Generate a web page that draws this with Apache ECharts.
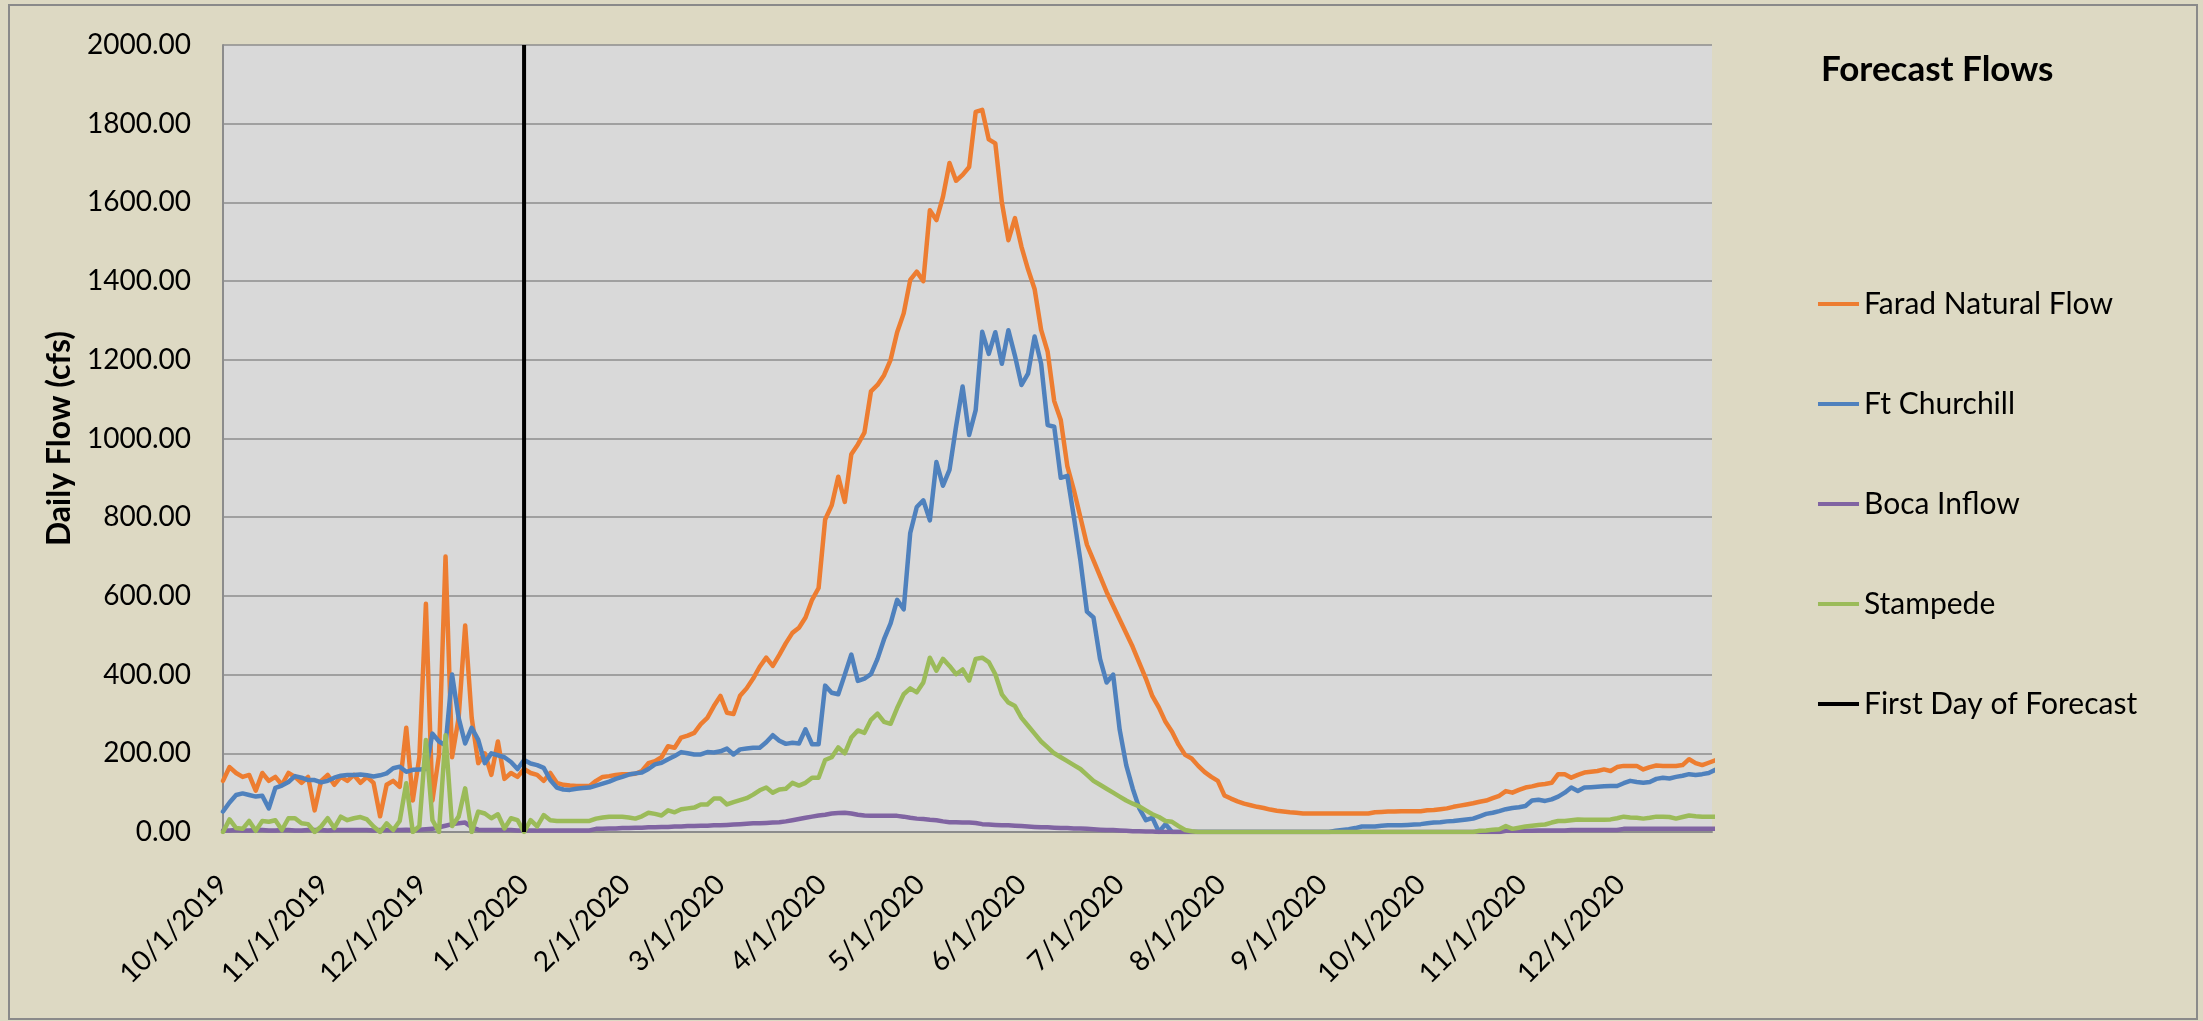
<!DOCTYPE html>
<html>
<head>
<meta charset="utf-8">
<title>Forecast Flows</title>
<script src="https://cdn.jsdelivr.net/npm/echarts@6/dist/echarts.min.js"></script>
<style>
    html, body { margin: 0; padding: 0; background: #DDD9C3; }
    #flows { width: 2203px; height: 1021px; }
</style>
</head>
<body>
<div id="flows"></div>
<script>
// flows read every second day, first value is 10/1/2019
var firstDay = [2019, 9, 1];
var stepDays = 2;
var lastDay = [2020, 11, 29];
var forecastDay = '1/1/2020';
var tickLabels = ['10/1/2019', '11/1/2019', '12/1/2019', '1/1/2020', '2/1/2020', '3/1/2020', '4/1/2020',
    '5/1/2020', '6/1/2020', '7/1/2020', '8/1/2020', '9/1/2020', '10/1/2020', '11/1/2020', '12/1/2020'];
var seriesNames = ['Farad Natural Flow', 'Ft Churchill', 'Boca Inflow', 'Stampede', 'First Day of Forecast'];
var seriesColors = ['#ED7D31', '#4F81BD', '#8064A2', '#9BBB59', '#000000'];

var farad = [
    130, 165, 150, 140, 145, 105, 150, 130, 140, 120,
    150, 140, 125, 140, 55, 130, 145, 120, 140, 130,
    145, 125, 140, 125, 40, 120, 130, 115, 265, 80,
    190, 580, 80, 195, 700, 190, 290, 525, 290, 175,
    200, 145, 230, 135, 150, 140, 160, 150, 145, 130,
    150, 125, 120, 118, 117, 117, 117, 130, 140, 142,
    145, 147, 147, 148, 155, 175, 180, 190, 218, 214,
    240, 245, 252, 274, 290, 320, 346, 303, 300, 346,
    365, 390, 420, 443, 422, 450, 480, 506, 519, 545,
    590, 620, 794, 830, 903, 839, 960, 985, 1015, 1120,
    1136, 1161, 1200, 1270, 1318, 1403, 1424, 1400, 1580, 1555,
    1614, 1700, 1655, 1670, 1690, 1830, 1835, 1760, 1750, 1600,
    1504, 1560, 1487, 1430, 1380, 1276, 1220, 1095, 1047, 930,
    869, 800, 730, 690, 650, 610, 575, 540, 505, 470,
    430, 390, 345, 316, 280, 255, 222, 196, 187, 168,
    152, 140, 130, 93, 85, 78, 72, 68, 64, 61,
    57, 54, 52, 50, 49, 47, 47, 47, 47, 47,
    47, 47, 47, 47, 47, 47, 50, 51, 52, 52,
    53, 53, 53, 53, 55, 56, 58, 60, 64, 67,
    70, 73, 77, 80, 86, 92, 104, 100, 107, 113,
    116, 120, 122, 125, 147, 147, 138, 145, 151, 153,
    155, 159, 155, 165, 168, 168, 168, 159, 165, 169,
    168, 168, 168, 170, 185, 175, 170, 176, 182
];
var churchill = [
    52, 75, 94, 98, 94, 90, 92, 60, 112, 118,
    127, 142, 138, 132, 132, 126, 130, 138, 143, 145,
    145, 146, 144, 141, 144, 149, 162, 166, 153, 158,
    159, 160, 250, 230, 220, 400, 290, 225, 265, 234,
    175, 200, 195, 190, 178, 160, 183, 174, 170, 163,
    132, 113, 108, 107, 110, 112, 113, 118, 123, 128,
    135, 140, 146, 149, 151, 160, 172, 176, 185, 193,
    203, 200, 197, 197, 203, 202, 205, 212, 197, 210,
    212, 214, 214, 228, 246, 232, 224, 227, 225, 261,
    223, 223, 372, 354, 350, 400, 451, 384, 390, 401,
    440, 490, 530, 590, 566, 760, 826, 843, 792, 940,
    880, 920, 1030, 1132, 1009, 1072, 1271, 1215, 1270, 1190,
    1275, 1210, 1136, 1165, 1259, 1190, 1034, 1030, 900, 905,
    801, 690, 560, 545, 440, 380, 400, 260, 170, 110,
    60, 30, 36, 0, 20, 0, 0, 0, 0, 0,
    0, 0, 0, 0, 0, 0, 0, 0, 0, 0,
    0, 0, 0, 0, 0, 0, 0, 0, 0, 0,
    3, 5, 7, 10, 14, 14, 14, 16, 17, 17,
    17, 18, 19, 20, 22, 24, 25, 27, 28, 30,
    32, 34, 40, 46, 49, 53, 58, 61, 63, 66,
    80, 82, 79, 83, 90, 100, 113, 104, 113, 114,
    115, 116, 117, 117, 124, 130, 127, 125, 127, 135,
    138, 136, 140, 143, 147, 145, 147, 150, 158
];
var boca = [
    4, 4, 5, 4, 4, 5, 5, 4, 4, 5,
    5, 4, 4, 5, 5, 5, 4, 5, 5, 5,
    5, 5, 5, 4, 5, 5, 6, 5, 6, 5,
    6, 7, 8, 12, 16, 20, 22, 24, 12, 6,
    5, 5, 5, 5, 5, 4, 4, 4, 4, 4,
    4, 4, 4, 4, 4, 4, 4, 8, 8, 9,
    9, 10, 10, 11, 11, 12, 12, 13, 13, 14,
    14, 15, 15, 16, 16, 17, 17, 18, 19, 20,
    21, 22, 22, 23, 24, 25, 27, 30, 33, 36,
    39, 42, 44, 47, 48, 49, 47, 44, 42, 41,
    41, 41, 41, 41, 39, 36, 34, 33, 31, 30,
    27, 25, 25, 24, 24, 23, 20, 19, 18, 17,
    17, 16, 15, 14, 13, 12, 12, 11, 10, 10,
    9, 9, 8, 7, 6, 5, 5, 4, 3, 2,
    2, 1, 1, 0, 0, 0, 0, 0, 0, 0,
    0, 0, 0, 0, 0, 0, 0, 0, 0, 0,
    0, 0, 0, 0, 0, 0, 0, 0, 0, 0,
    0, 0, 0, 0, 0, 0, 0, 0, 0, 0,
    0, 0, 0, 0, 0, 0, 0, 0, 0, 0,
    0, 0, 0, 0, 0, 0, 3, 3, 3, 3,
    3, 4, 4, 4, 4, 4, 5, 5, 5, 5,
    5, 5, 5, 5, 8, 8, 8, 8, 8, 8,
    8, 8, 8, 8, 8, 8, 8, 8, 8
];
var stampede = [
    0, 32, 10, 8, 28, 3, 28, 26, 30, 5,
    35, 35, 22, 20, 0, 14, 35, 10, 39, 30,
    35, 38, 32, 14, 0, 22, 5, 28, 124, 0,
    15, 234, 30, 0, 246, 15, 39, 111, 0, 52,
    47, 35, 45, 9, 35, 30, 0, 30, 14, 43,
    30, 28, 28, 28, 28, 28, 28, 34, 37, 39,
    39, 39, 37, 34, 40, 49, 46, 42, 55, 50,
    58, 60, 62, 70, 70, 85, 85, 70, 76, 81,
    86, 95, 106, 113, 100, 108, 110, 125, 118, 125,
    138, 138, 183, 190, 215, 200, 240, 258, 252, 285,
    301, 280, 275, 315, 350, 365, 355, 380, 443, 410,
    440, 422, 401, 413, 385, 440, 443, 432, 401, 350,
    329, 320, 290, 270, 250, 230, 215, 200, 190, 180,
    170, 160, 145, 130, 120, 110, 100, 90, 80, 72,
    65, 55, 45, 38, 28, 26, 15, 5, 2, 0,
    0, 0, 0, 0, 0, 0, 0, 0, 0, 0,
    0, 0, 0, 0, 0, 0, 0, 0, 0, 0,
    0, 0, 0, 0, 0, 0, 0, 0, 0, 0,
    0, 0, 0, 0, 0, 0, 0, 0, 0, 0,
    0, 0, 3, 4, 6, 7, 15, 8, 11, 14,
    16, 18, 19, 24, 28, 28, 30, 32, 31, 31,
    31, 31, 32, 35, 39, 37, 36, 34, 36, 39,
    39, 38, 34, 38, 42, 40, 39, 39, 39
];
var forecastLine = [0, 2000];

function parseLabel(s) {
    var p = s.split('/');
    return new Date(+p[2], +p[0] - 1, +p[1]).getTime();
}

function withDates(values) {
    return values.map(function (v, i) {
        return [new Date(firstDay[0], firstDay[1], firstDay[2] + i * stepDays).getTime(), v];
    });
}

var font = 'Lato';
var flowSeries = [farad, churchill, boca, stampede].map(function (vals, i) {
    return {
        name: seriesNames[i],
        type: 'line',
        data: withDates(vals),
        showSymbol: false,
        symbol: 'none',
        color: seriesColors[i],
        lineStyle: { width: 4.5, color: seriesColors[i], join: 'round', cap: 'round' }
    };
});
flowSeries.push({
    name: seriesNames[4],
    type: 'line',
    data: forecastLine.map(function (v) { return [parseLabel(forecastDay), v]; }),
    showSymbol: false,
    symbol: 'none',
    color: seriesColors[4],
    lineStyle: { width: 4, color: seriesColors[4] }
});

var chart = echarts.init(document.getElementById('flows'));
var option = {
    backgroundColor: '#DDD9C3',
    animation: false,
    title: {
        text: 'Forecast Flows',
        left: 1816,
        top: 47,
        textStyle: { fontFamily: font, fontSize: 35, fontWeight: 'bold', color: '#000' }
    },
    legend: {
        orient: 'vertical',
        left: 1813,
        top: 284,
        itemGap: 70,
        itemWidth: 41,
        itemHeight: 4,
        icon: 'rect',
        data: seriesNames,
        textStyle: { fontFamily: font, fontSize: 30, color: '#000', lineHeight: 30 }
    },
    grid: {
        left: 223,
        right: 491,
        top: 45,
        bottom: 189,
        show: true,
        backgroundColor: '#D9D9D9',
        borderWidth: 0
    },
    xAxis: {
        // dates as plain millisecond values so the month-start labels can be placed exactly
        type: 'value',
        min: new Date(firstDay[0], firstDay[1], firstDay[2]).getTime(),
        max: new Date(lastDay[0], lastDay[1], lastDay[2]).getTime(),
        splitLine: { show: false },
        axisTick: { show: false },
        axisLine: { lineStyle: { color: '#8C8C8C', width: 2 } },
        axisLabel: {
            rotate: 45,
            margin: 48,
            hideOverlap: false,
            customValues: tickLabels.map(parseLabel),
            fontFamily: font,
            fontSize: 28,
            color: '#000',
            formatter: function (val) {
                var d = new Date(val);
                return (d.getMonth() + 1) + '/' + d.getDate() + '/' + d.getFullYear();
            }
        }
    },
    yAxis: {
        type: 'value',
        min: 0,
        max: 2000,
        interval: 200,
        name: 'Daily Flow (cfs)',
        nameLocation: 'middle',
        nameGap: 146,
        nameTextStyle: { fontFamily: font, fontSize: 32, fontWeight: 'bold', color: '#000' },
        axisLine: { show: true, lineStyle: { color: '#8C8C8C', width: 2 } },
        axisTick: { show: false },
        splitLine: { lineStyle: { color: '#8C8C8C', width: 1.5 } },
        axisLabel: {
            margin: 32,
            fontFamily: font,
            fontSize: 28,
            color: '#000',
            formatter: function (v) { return v.toFixed(2); }
        }
    },
    graphic: [{
        type: 'rect',
        shape: { x: 9, y: 5, width: 2188, height: 1014 },
        style: { fill: 'none', stroke: '#8A8A8A', lineWidth: 2 },
        silent: true
    }],
    series: flowSeries
};
chart.setOption(option);
</script>
</body>
</html>
